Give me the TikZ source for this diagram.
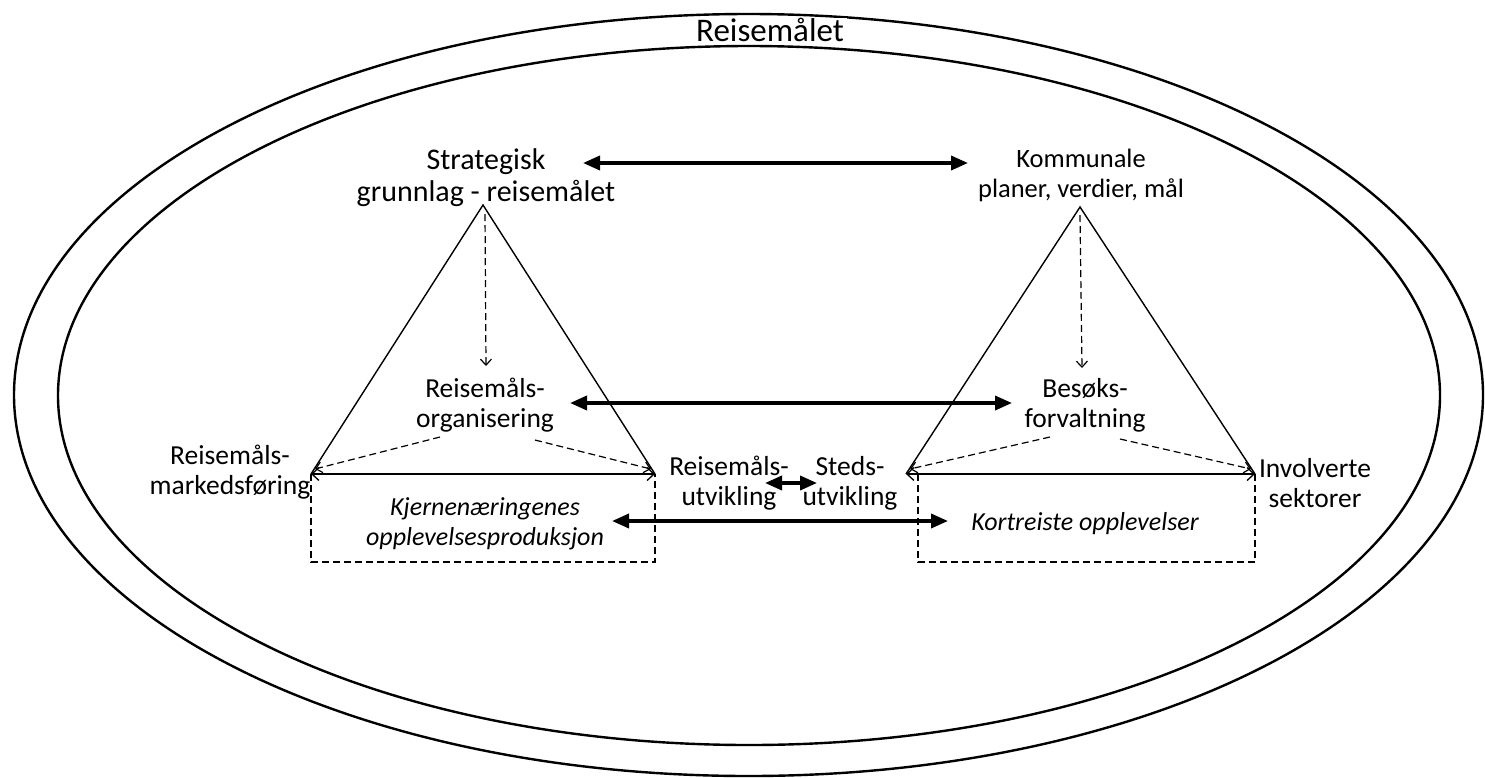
\documentclass[tikz,border=0pt]{standalone}
\usepackage{fontspec}
\setmainfont{Carlito}
\usetikzlibrary{arrows.meta}
\tikzset{
  ring/.style={line width=2.4pt},
  tri/.style={line width=1.4pt},
  lbl/.style={align=center, inner sep=0pt, font=\fontsize{27.5}{30}\selectfont},
  ilbl/.style={lbl, font=\fontsize{26}{30}\selectfont\itshape},
  bigarrow/.style={line width=3.6pt, {Triangle[length=17pt,width=14pt]}-{Triangle[length=17pt,width=14pt]}},
  thinboth/.style={line width=1.3pt, {Straight Barb[length=7pt,width=13pt]}-{Straight Barb[length=7pt,width=13pt]}},
  dasharrow/.style={line width=1.2pt, dash pattern=on 7pt off 4pt, -{Straight Barb[length=6pt,width=11pt]}},
  dashbox/.style={line width=1.2pt, dash pattern=on 7pt off 4pt},
}
\begin{document}
\begin{tikzpicture}[x=1pt,y=-1pt]
\useasboundingbox (0,0) rectangle (1485,777);
% ellipses
\draw[ring] (748.5,395) ellipse [x radius=734.5pt, y radius=381pt];
\draw[ring] (749,395.5) ellipse [x radius=691pt, y radius=349.5pt];
\node[lbl, anchor=base, fill=white, inner xsep=3pt, font=\fontsize{33}{38}\selectfont] (title) at (770,41) {Reisemålet};

% labels
\node[lbl, font=\fontsize{30}{32}\selectfont] (strat) at (486,178) {Strategisk\\grunnlag - reisemålet};
\node[lbl, font=\fontsize{26.5}{30}\selectfont] (komm) at (1081,175) {Kommunale\\planer, verdier, mål};
\node[lbl] (org) at (485,405) {Reisemåls-\\organisering};
\node[lbl] (besok) at (1085,405) {Besøks-\\forvaltning};
\node[lbl] (mark) at (230,472) {Reisemåls-\\markedsføring};
\node[lbl] (rutv) at (729,483) {Reisemåls-\\utvikling};
\node[lbl] (sutv) at (850,483) {Steds-\\utvikling};
\node[lbl] (invol) at (1315,483) {Involverte\\sektorer};
\node[ilbl] (kjerne) at (485,524) {Kjernenæringenes\\opplevelsesproduksjon};
\node[ilbl, anchor=base] (kort) at (1085,530) {Kortreiste opplevelser};

% left triangle
\coordinate (LA) at (483,205);
\coordinate (LB) at (311,474);
\coordinate (LC) at (655,474);
\draw[tri] (LB) -- (LA) -- (LC);
\draw[thinboth] (LB) -- (LC);
\coordinate (LBoxA) at (311,562);
\coordinate (LBoxB) at (655,562);
\draw[dashbox] (LB) -- (LBoxA) -- (LBoxB) -- (LC);
\coordinate (LD1) at (485,214);
\coordinate (LD2) at (486,366);
\draw[dasharrow] (LD1) -- (LD2);
\coordinate (LE1) at (440,437);
\coordinate (LE2) at (315,469);
\draw[dasharrow] (LE1) -- (LE2);
\coordinate (LF1) at (535,440);
\coordinate (LF2) at (651,469);
\draw[dasharrow] (LF1) -- (LF2);

% right triangle
\coordinate (RA) at (1080,207);
\coordinate (RB) at (906,474);
\coordinate (RC) at (1255,474);
\draw[tri] (RB) -- (RA) -- (RC);
\draw[thinboth] (RB) -- (RC);
\coordinate (RBox0) at (918,474);
\coordinate (RBoxA) at (918,562);
\coordinate (RBoxB) at (1255,562);
\draw[dashbox] (RBox0) -- (RBoxA) -- (RBoxB) -- (RC);
\coordinate (RD1) at (1080,215);
\coordinate (RD2) at (1082,368);
\draw[dasharrow] (RD1) -- (RD2);
\coordinate (RE1) at (1050,437);
\coordinate (RE2) at (910,469);
\draw[dasharrow] (RE1) -- (RE2);
\coordinate (RF1) at (1120,439);
\coordinate (RF2) at (1251,469);
\draw[dasharrow] (RF1) -- (RF2);

% thick arrows
\coordinate (T1) at (583,163);
\coordinate (T2) at (968,163);
\draw[bigarrow] (T1) -- (T2);
\coordinate (M1) at (570,403);
\coordinate (M2) at (1012,403);
\draw[bigarrow] (M1) -- (M2);
\coordinate (S1) at (765,483);
\coordinate (S2) at (817,483);
\draw[bigarrow] (S1) -- (S2);
\coordinate (B1) at (612,521);
\coordinate (B2) at (948,521);
\draw[bigarrow] (B1) -- (B2);
\end{tikzpicture}
\end{document}
